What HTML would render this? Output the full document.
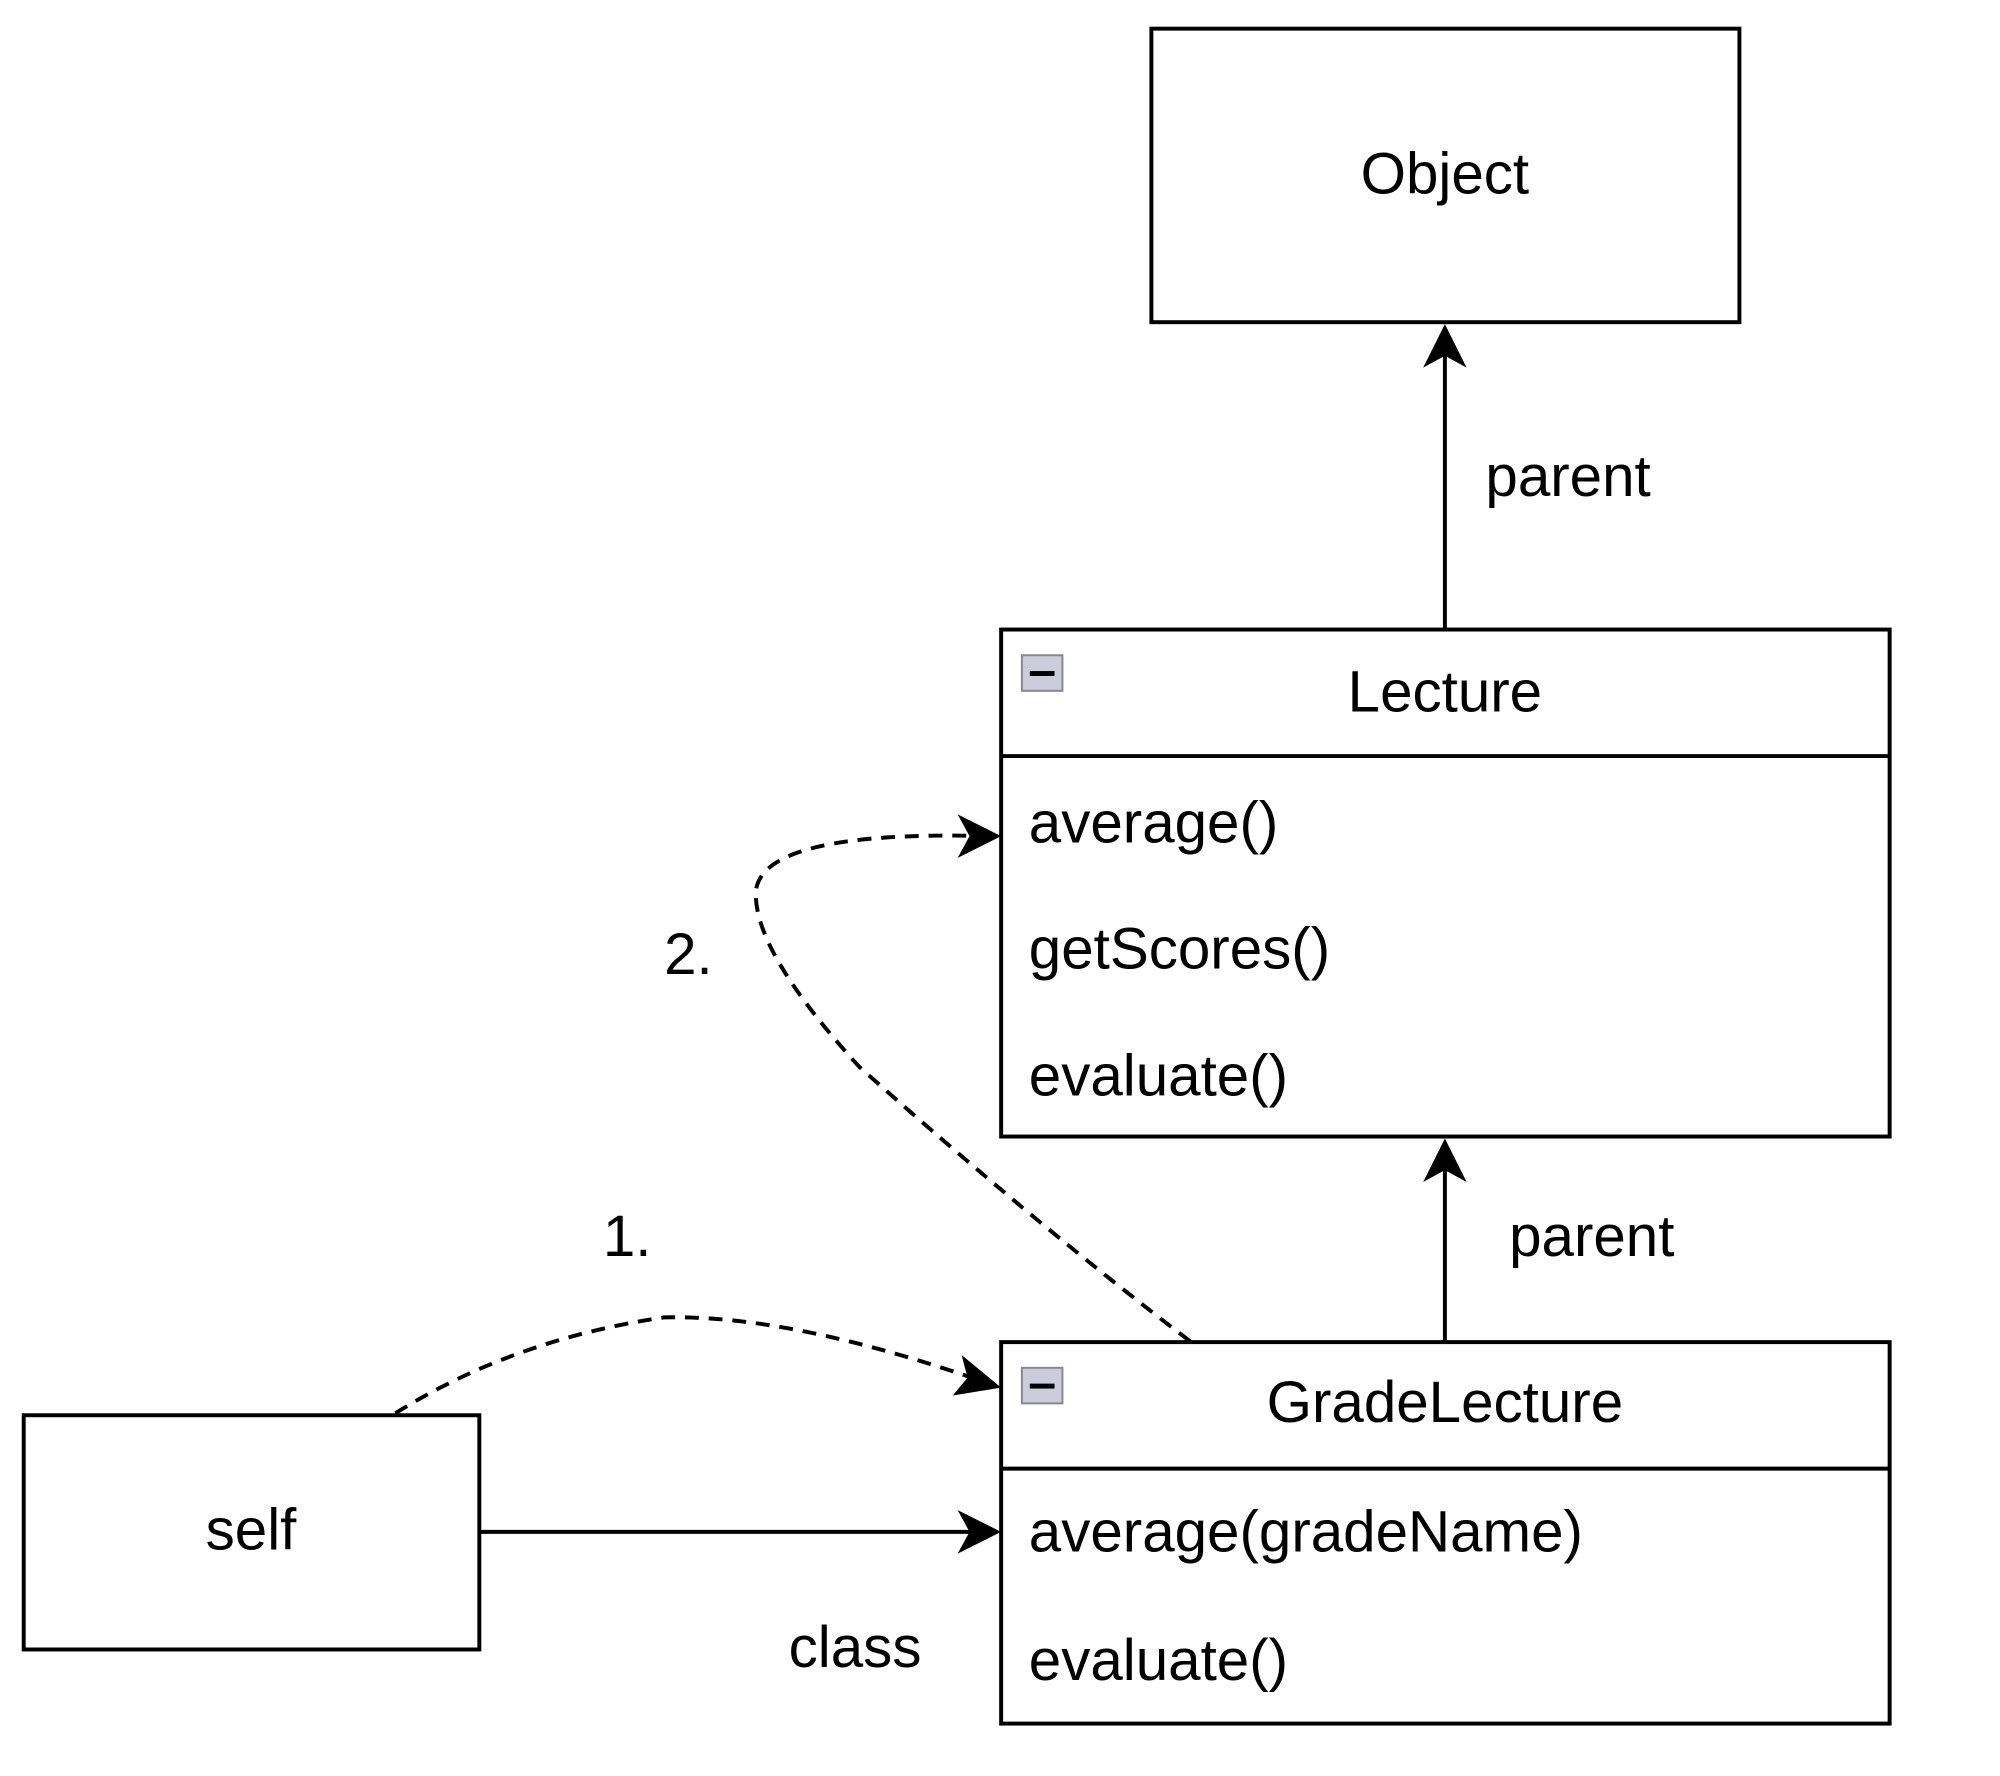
<!DOCTYPE html>
<html><head><style>body{margin:0;background:#fff}svg{display:block}</style></head>
<body>
<svg width="2000" height="1776" viewBox="0 0 2000 1776" xmlns="http://www.w3.org/2000/svg" font-family="Liberation Sans, Arial, sans-serif" font-size="59" fill="#000">
<g transform="scale(0.9883)">
<g fill="none" stroke="#000" stroke-width="4">
<rect x="1165" y="29" width="595" height="297" fill="#fff"/>
<rect x="1013" y="637" width="899" height="513" fill="#fff"/>
<line x1="1013" y1="765" x2="1912" y2="765"/>
<rect x="1013" y="1358" width="899" height="386" fill="#fff"/>
<line x1="1013" y1="1486" x2="1912" y2="1486"/>
<rect x="24" y="1432" width="461" height="237" fill="#fff"/>
<line x1="1462" y1="637" x2="1462" y2="340"/>
<line x1="1462" y1="1358" x2="1462" y2="1164"/>
<line x1="485" y1="1550" x2="1000" y2="1550"/>
<path d="M400 1430 Q520 1355 672 1333 Q800 1330 995 1398" stroke-dasharray="14 10"/>
<path d="M1204 1357 Q1050 1240 870 1080 Q760 960 765 900 Q775 840 1000 846" stroke-dasharray="14 10"/>
</g>
<g fill="#000">
<path d="M1462 328 L1484 372 L1462 360 L1440 372 Z"/>
<path d="M1462 1152 L1484 1196 L1462 1184 L1440 1196 Z"/>
<path d="M1013 1550 L969 1572 L981 1550 L969 1528 Z"/>
<path d="M1013 846 L969 868 L981 846 L969 824 Z"/>
<path d="M1013 1404 L964 1412 L979 1394 L973 1371 Z"/>
</g>
<g>
<rect x="1034" y="663" width="41" height="36" fill="#ccd" stroke="#888" stroke-width="2"/>
<rect x="1042" y="679" width="25" height="5" fill="#000"/>
<rect x="1034" y="1384" width="41" height="36" fill="#ccd" stroke="#888" stroke-width="2"/>
<rect x="1042" y="1400" width="25" height="5" fill="#000"/>
</g>
<g dominant-baseline="central">
<text x="1462" y="176" text-anchor="middle">Object</text>
<text x="1462" y="700" text-anchor="middle">Lecture</text>
<text x="1041" y="833">average()</text>
<text x="1041" y="960">getScores()</text>
<text x="1041" y="1089">evaluate()</text>
<text x="1462" y="1419" text-anchor="middle">GradeLecture</text>
<text x="1041" y="1550">average(gradeName)</text>
<text x="1041" y="1680">evaluate()</text>
<text x="254" y="1548" text-anchor="middle">self</text>
<text x="1503" y="482">parent</text>
<text x="1527" y="1251">parent</text>
<text x="610" y="1251">1.</text>
<text x="672" y="966">2.</text>
<text x="798" y="1667">class</text>
</g>
</g>
</svg>
</body></html>
